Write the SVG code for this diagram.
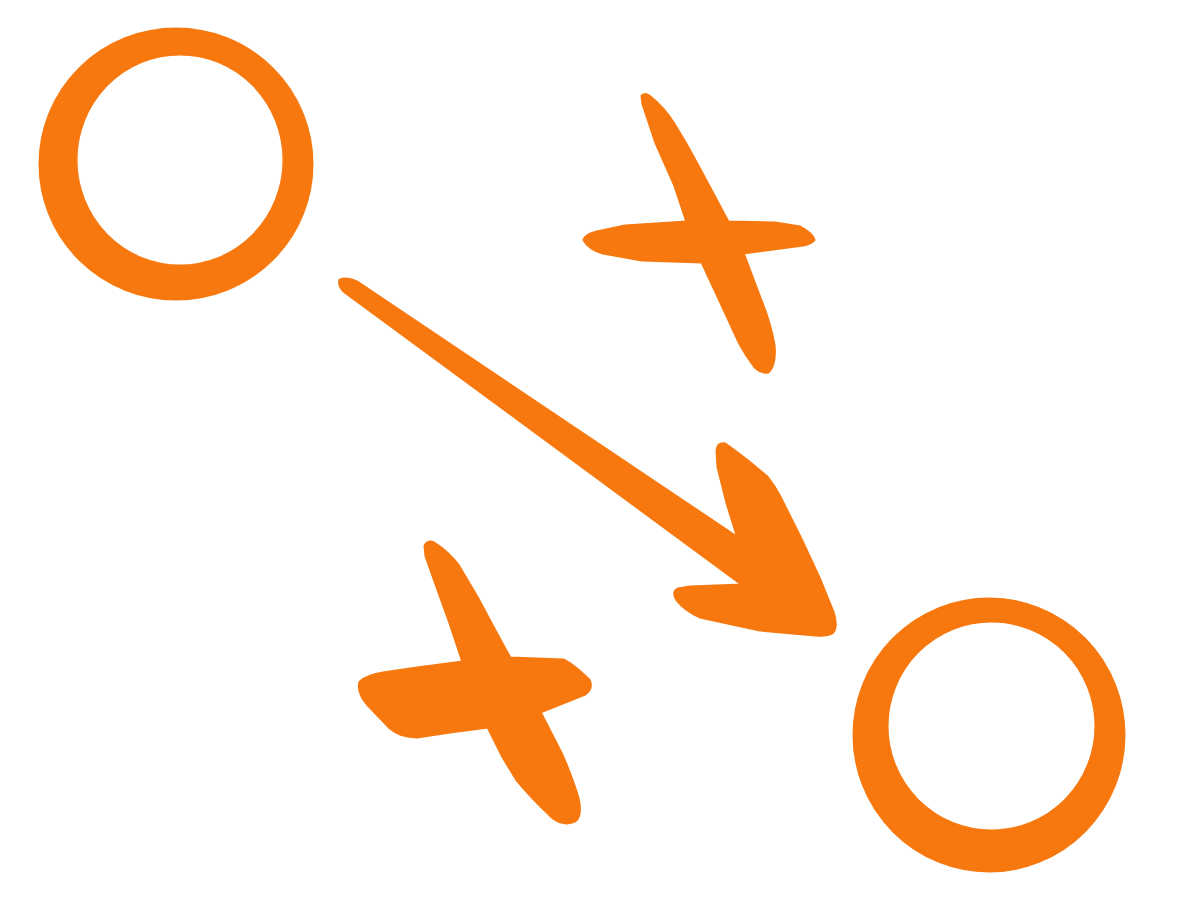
<svg xmlns="http://www.w3.org/2000/svg" width="1200" height="900" viewBox="0 0 1200 900">
<style>
.ink{fill:#F7780E;stroke:#F7780E;stroke-width:3;stroke-linejoin:round}
.ring{fill-rule:evenodd}
</style>
<rect width="1200" height="900" fill="#ffffff"/>
<g id="circle-start">
<path class="ink ring" d="M312,164 A136,135 0 1 0 40,164 A136,135 0 1 0 312,164 Z M284,160 A104,106 0 1 1 76,160 A104,106 0 1 1 284,160 Z"/>
</g>
<g id="circle-end">
<path class="ink ring" d="M1124,735 A135,136 0 1 0 854,735 A135,136 0 1 0 1124,735 Z M1096,726 A104.5,105 0 1 1 887,726 A104.5,105 0 1 1 1096,726 Z"/>
</g>
<g id="cross-top">
<path class="ink" d="M642,96 Q645,93 649,96 Q664,108 674,124 Q686,143 697,164 L712,192 L728,222 L775,223 L800,227 Q813,234 814,240 Q810,244 803,245 L743,253 L760,298 Q770,322 774,345 Q776,365 768,372 Q761,373 755,367 Q746,355 740,344 L722,305 L702,262 L642,260 L603,253 Q589,249 584,240 Q585,235 597,232 L625,226 L687,222 L675,186 L656,143 L643,104 Z"/>
</g>
<g id="cross-bottom">
<path class="ink" d="M425,546 Q428,540 434,543 Q448,552 458,565 L477,597 L493,627 L510,658 L563,660 Q571,663 589,680 Q593,688 585,694 L540,712 L562,755 Q572,778 578,798 Q582,816 575,821 Q565,826 553,818 Q530,796 517,780 L503,757 L488,727 L450,732 L417,737 Q400,737 390,728 L368,705 Q357,692 360,682 Q366,676 383,673 L417,668 L463,662 L450,623 L437,587 L426,556 Z"/>
</g>
<g id="connectors">
<path class="ink" d="M340,280 Q346,277 357,282 L738,538 L727,503 L718,467 L717,450 Q718,443 725,444 Q745,458 767,477 Q775,487 780,497 L800,537 L820,580 L833,612 Q838,628 832,633 Q827,636 815,635 L760,630 L700,617 Q685,610 677,600 Q672,592 678,589 L690,587 L743,585 L345,292 Q338,286 340,280 Z"/>
</g>
</svg>
